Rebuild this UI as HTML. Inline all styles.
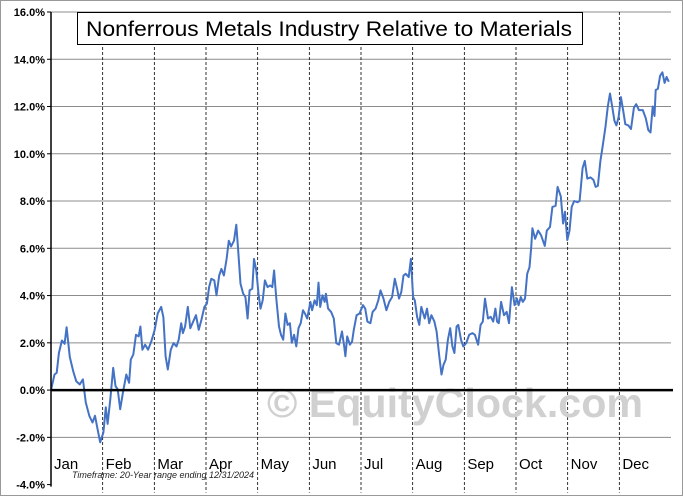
<!DOCTYPE html>
<html><head><meta charset="utf-8"><style>
html,body{margin:0;padding:0;background:#fff;}
svg{display:block;font-family:"Liberation Sans",Arial,sans-serif;}
</style></head><body>
<svg id="chart" width="683" height="496" viewBox="0 0 683 496" xmlns="http://www.w3.org/2000/svg">
<rect x="0.5" y="0.5" width="682" height="495" fill="#fff" stroke="#999"/>
<g id="grid"></g>
<text x="455" y="417" font-size="41" font-weight="bold" fill="#d0d0d0" text-anchor="middle" textLength="376" lengthAdjust="spacingAndGlyphs">© EquityClock.com</text>
<g id="series"></g>
<g id="axes"></g>
<rect x="77.5" y="12.5" width="505" height="32" fill="#fff" stroke="#000"/>
<text x="86" y="36" font-size="21" textLength="486" lengthAdjust="spacingAndGlyphs" fill="#000">Nonferrous Metals Industry Relative to Materials</text>
<text x="72" y="478" font-size="9" font-style="italic" fill="#222">Timeframe: 20-Year range ending 12/31/2024</text>
</svg>
<script>
const yTicks=[-4,-2,0,2,4,6,8,10,12,14,16];
const months=["Jan","Feb","Mar","Apr","May","Jun","Jul","Aug","Sep","Oct","Nov","Dec"];
const days=[0,1.4,2.3,3.2,4.4,5.5,6.3,7.6,9,10.2,11.6,12.9,14.1,15.5,16.8,17.8,19.1,19.9,21.2,22.2,22.9,24,25.2,26.1,27,28,29.1,30.5,31.6,32.3,33.3,34.4,35.5,36.2,37,38.1,39.3,40.6,42,43.2,44.6,45.5,46.4,47.3,48.5,49.6,50.8,51.7,52.7,53.4,54.3,55.4,56.4,57.3,58.7,59.8,60.9,62.1,63.1,64,64.9,66.1,67,68.1,69,70,71.1,72,72.9,74.1,75,75.8,76.7,77.8,78.7,79.6,80.4,81.5,82.2,83.1,84,84.8,85.7,86.6,87.7,88.7,89.6,90.3,91.2,92.3,93.1,94,94.9,95.8,96.7,97.5,98.4,99.3,100.2,101.1,102,102.8,103.7,105,105.7,106.7,107.6,108.3,109,109.9,110.8,111.3,112.2,113.4,114.5,115.5,116.6,117.8,118.7,119.2,119.9,121,121.9,122.6,123.7,124.9,126.3,127.2,128.1,129.3,130.2,131.4,132.5,133.4,134.6,135.8,136.9,138.1,139.2,140.1,140.9,141.8,142.7,143.6,144.8,145.7,146.6,147.3,148.2,149.1,149.9,151.3,152.2,153.1,154,155.2,156.1,157.2,158.1,158.9,159.8,160.7,161.6,162.5,163.3,164.2,164.9,166,166.9,168.1,169.3,170.6,171.6,172.9,173.9,174.8,175.7,176.9,178,179,179.9,180.6,181.3,182.2,183.4,184.5,185.4,186.6,187.7,188.6,189.3,190.2,191,191.9,192.8,193.7,194.4,194.9,196,197.2,198.4,199.9,200.7,202,203,204.3,205.1,206.4,207.3,208.1,209,209.9,210.8,211.8,213.1,214,215.2,216.1,217.1,218.4,219.6,220.5,221.4,222.4,223.3,224.5,225.4,226.3,227.2,228.1,228.9,229.8,230.7,231.6,232.5,233.7,234.8,236,236.9,238,239.6,240.8,241.8,242.7,243.6,244.3,244.8,245.7,246.6,247.5,248.4,249.2,250.1,251];
const values=[0,0.66,0.73,1.57,2.10,1.96,2.66,1.40,0.80,0.38,0.24,0.45,-0.53,-1.09,-1.37,-1.09,-1.79,-2.21,-1.79,-0.73,-1.43,-0.39,0.94,0.17,0.03,-0.81,-0.11,0.66,0.31,1.29,1.50,2.34,2.27,2.69,1.71,1.92,1.71,2.06,2.55,3.24,3.52,3.08,1.43,0.87,1.71,1.99,1.85,2.13,2.83,2.41,2.69,3.52,2.62,2.83,3.17,2.55,2.97,3.52,3.66,4.36,4.71,4.64,4.01,4.85,5.13,4.85,5.55,6.32,6.08,6.32,7.0,5.90,4.50,4.08,3.94,3.03,4.22,4.29,5.55,5.06,4.08,3.45,3.80,4.64,4.36,4.43,4.36,5.06,3.87,2.69,2.34,2.13,3.24,2.76,2.83,2.0,2.34,1.85,2.62,2.83,3.38,3.24,3.03,3.73,3.38,3.80,3.59,4.55,3.52,4.01,3.73,4.08,3.45,3.31,3.03,1.99,1.92,2.48,1.85,1.43,2.27,1.92,2.06,2.55,3.17,3.24,3.59,3.45,2.90,2.83,3.31,3.45,3.80,4.22,3.87,3.38,3.73,3.94,4.71,4.29,3.87,4.15,4.85,4.92,4.78,5.55,3.94,3.80,3.10,2.76,3.52,3.03,3.45,2.83,3.17,2.90,2.48,1.43,0.66,1.07,1.29,2.13,2.62,1.85,1.57,2.69,2.76,2.13,1.85,1.99,2.34,2.41,2.34,1.92,2.76,2.90,3.87,3.03,3.10,2.90,3.45,2.90,2.83,3.73,3.17,3.31,2.83,4.36,3.59,3.87,3.59,3.94,3.73,3.87,4.92,5.20,6.04,6.85,6.4,6.75,6.55,6.1,6.75,6.9,7.75,7.8,8.6,8.2,7.05,7.55,6.35,6.75,7.75,8.0,7.95,8.0,9.4,9.7,8.95,9.0,8.9,8.6,8.65,9.7,10.3,11.15,12.0,12.55,12.0,11.4,11.2,11.55,12.4,11.85,11.25,11.2,11.05,11.95,12.1,11.85,11.85,11.5,11.0,10.9,12.0,11.6,12.7,12.75,13.3,13.45,13.0,13.25,13.05];
const NS="http://www.w3.org/2000/svg";
const X0=51,X1=671,Y0=484.6,YT=12,DAYMAX=251;
const yS=v=>Y0-(v+4)/20*(Y0-YT);
const xS=d=>X0+d/DAYMAX*(X1-X0);
const mS=m=>X0+m/12*(X1-X0);
function mk(tag,attrs,parent){const e=document.createElementNS(NS,tag);for(const k in attrs)e.setAttribute(k,attrs[k]);parent.appendChild(e);return e;}
const grid=document.getElementById('grid'),axes=document.getElementById('axes'),series=document.getElementById('series');
yTicks.forEach(t=>{
  if(t!==0&&t!==-4){const l=mk('line',{x1:X0,x2:X1,y1:yS(t),y2:yS(t),stroke:'#8c8c8c','stroke-width':1},grid);
  
  }
  const tx=mk('text',{x:45,y:yS(t)+4,'font-size':11,'font-weight':'bold','text-anchor':'end',fill:'#000'},axes);
  tx.textContent=t.toFixed(1)+'%';
  
  
  const tk=mk('line',{x1:X0-4,x2:X0,y1:yS(t),y2:yS(t),stroke:'#000'},axes);
  
  
});
months.forEach((m,i)=>{
  if(i>0){const l=mk('line',{x1:mS(i),x2:mS(i),y1:YT,y2:Y0+8,stroke:'#000','stroke-width':0.8,'stroke-dasharray':'3,2'},grid);
  
  }
  const tx=mk('text',{x:mS(i)+3,y:469,'font-size':15,fill:'#000'},axes);
  tx.textContent=m;
  
  
});
const ya=mk('line',{x1:X0,x2:X0,y1:YT,y2:Y0+2,stroke:'#000','stroke-width':1.5},axes);


const za=mk('line',{x1:X0,x2:673,y1:yS(0),y2:yS(0),stroke:'#000','stroke-width':2.5},axes);


const n=Math.min(days.length,values.length);
let d='';
for(let i=0;i<n;i++){d+=(i?'L':'M')+xS(days[i]).toFixed(1)+','+yS(values[i]).toFixed(1);}
const p=mk('path',{d:d,fill:'none',stroke:'#4472c4','stroke-width':2,'stroke-linejoin':'round'},series);


</script>
</body></html>
